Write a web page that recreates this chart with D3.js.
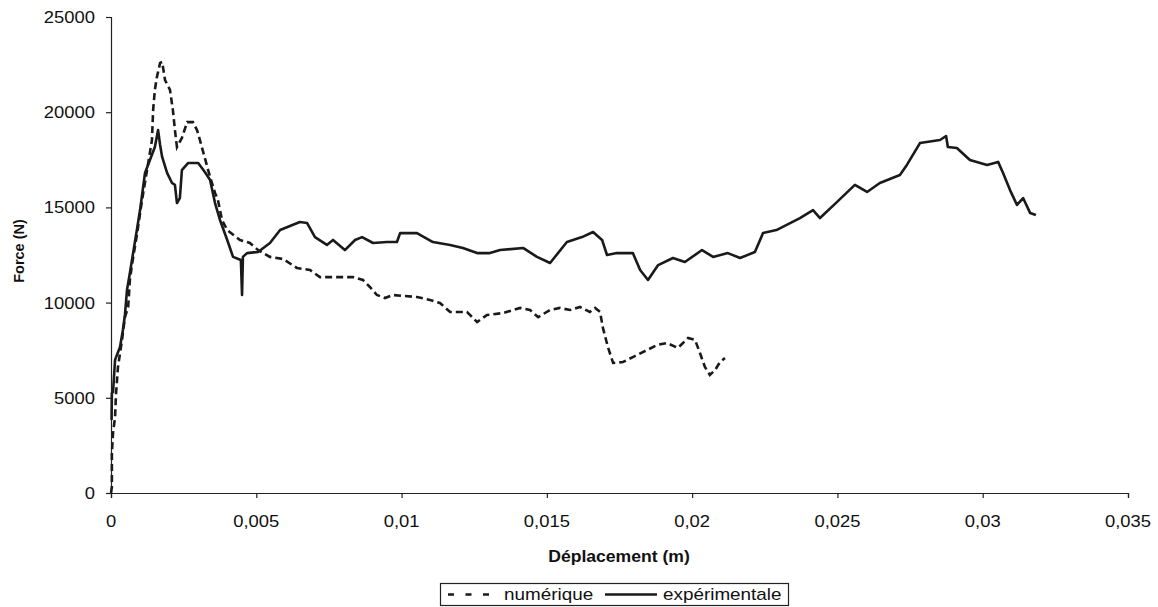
<!DOCTYPE html>
<html><head><meta charset="utf-8">
<script src="https://cdn.jsdelivr.net/npm/d3@7"></script>
<style>body{margin:0;background:#fff}svg{display:block}text{font-family:"Liberation Sans",Arial,sans-serif;fill:#111}</style>
</head><body>
<script>
const xTicks = [0, 0.005, 0.01, 0.015, 0.02, 0.025, 0.03, 0.035];
const xTickLabels = ["0", "0,005", "0,01", "0,015", "0,02", "0,025", "0,03", "0,035"];
const yTicks = [0, 5000, 10000, 15000, 20000, 25000];
const seriesNames = ["numérique", "expérimentale"];

const expX = [0.00002,0.00003,0.00007,0.00014,0.00031,0.00041,0.00048,0.00055,0.00065,0.00076,0.00089,0.001,0.00117,0.00134,0.00151,0.00162,0.00169,0.00176,0.00193,0.0021,0.0022,0.00227,0.00237,0.00244,0.00265,0.003,0.00323,0.00341,0.00358,0.00375,0.004,0.0042,0.00447,0.00451,0.00454,0.00468,0.00506,0.00547,0.00582,0.0065,0.00675,0.00702,0.00743,0.00764,0.00805,0.0084,0.00864,0.00902,0.0095,0.00984,0.00995,0.01053,0.01108,0.01167,0.01211,0.0126,0.01304,0.01339,0.01418,0.01466,0.01511,0.01569,0.01621,0.01659,0.0169,0.01707,0.01741,0.01796,0.01821,0.01848,0.01883,0.01934,0.01975,0.02034,0.02072,0.02123,0.02165,0.02216,0.02244,0.0229,0.02371,0.02416,0.0244,0.02498,0.0256,0.02602,0.02646,0.02715,0.02739,0.02784,0.02853,0.02874,0.0288,0.02911,0.02956,0.03015,0.03053,0.0307,0.03094,0.03118,0.03139,0.03163,0.03183];
const expY = [3830,5250,5300,6990,7670,8560,9350,10660,11550,12600,13810,14860,16810,17490,18170,19060,18280,17650,16810,16280,16180,15230,15490,16960,17330,17330,16860,16440,15230,14340,13290,12400,12240,10400,12400,12600,12660,13130,13810,14230,14180,13440,13030,13290,12760,13290,13440,13130,13180,13180,13650,13650,13180,13030,12870,12600,12600,12760,12870,12400,12080,13180,13440,13710,13290,12500,12600,12600,11710,11190,11970,12340,12130,12760,12400,12600,12340,12660,13650,13810,14440,14860,14440,15280,16180,15810,16280,16700,17230,18380,18540,18750,18170,18120,17490,17230,17390,16810,15910,15130,15490,14710,14600];

const numX = [0,0.00003,0.00003,0.00007,0.00014,0.00017,0.00024,0.00038,0.00048,0.00059,0.00065,0.00072,0.00089,0.00107,0.00124,0.00141,0.00145,0.00151,0.00158,0.00169,0.00176,0.00186,0.00203,0.00213,0.0022,0.00227,0.00244,0.00262,0.00282,0.00296,0.00306,0.00323,0.00341,0.00358,0.00368,0.00382,0.004,0.00444,0.00478,0.00506,0.00547,0.00592,0.0064,0.00685,0.00719,0.00833,0.00867,0.00891,0.00915,0.00943,0.0097,0.01053,0.01098,0.01132,0.01167,0.01225,0.0126,0.01294,0.01349,0.01408,0.01442,0.0147,0.01511,0.01545,0.0158,0.01614,0.01648,0.01666,0.01683,0.01693,0.0171,0.01728,0.01762,0.01796,0.01845,0.01879,0.01913,0.01951,0.01986,0.0201,0.02027,0.02044,0.02061,0.02079,0.02096,0.02113];
const numY = [0,320,2100,3150,3990,5150,6620,8040,9240,9770,11190,11970,13550,15390,16960,18540,20110,21170,21850,22590,22640,21690,21170,20110,19060,18170,18650,19480,19480,19060,18540,17590,16600,15760,15390,14340,13810,13290,13130,12760,12400,12290,11820,11710,11340,11340,11190,10820,10400,10240,10400,10290,10140,9980,9510,9510,8980,9350,9450,9720,9610,9240,9610,9720,9610,9770,9510,9720,9510,8670,7670,6830,6880,7140,7510,7770,7880,7620,8140,8040,7350,6620,6200,6460,6880,7090];

const W = 1158, H = 607;
const L = 111, R = 1128, T = 17, B = 493;
const svg = d3.select("body").append("svg").attr("width", W).attr("height", H);
const x = d3.scaleLinear().domain([0, 0.035]).range([L, R]);
const y = d3.scaleLinear().domain([0, 25000]).range([B, T]);

// axes
const gx = svg.append("g").attr("transform", `translate(0,${B})`)
  .call(d3.axisBottom(x).tickValues(xTicks).tickSize(5).tickFormat((d,i)=>""));
const gy = svg.append("g").attr("transform", `translate(${L},0)`)
  .call(d3.axisLeft(y).tickValues(yTicks).tickSize(5).tickFormat(()=>""));
[gx, gy].forEach(g => { g.select(".domain").attr("stroke","#222").attr("stroke-width",1.2); g.selectAll(".tick line").attr("stroke","#222").attr("stroke-width",1.2); });

function stext(px, py, str, opts) {
  const g = svg.append("g").attr("transform", `translate(${px},${py}) scale(${opts.sx||1},1)`);
  return g.append("text").attr("text-anchor", opts.anchor||"middle")
    .attr("font-size", opts.size||16).attr("font-weight", opts.bold?"bold":"normal").text(str);
}
xTicks.forEach((t,i) => stext(x(t), 527, xTickLabels[i], {sx:1.15, size:16}));
yTicks.forEach(t => stext(95, y(t)+6, String(t), {sx:1.15, size:16, anchor:"end"}));
stext(619, 562, "Déplacement (m)", {sx:1.1, size:16, bold:true});
svg.append("text").attr("transform", `translate(24,251) rotate(-90)`).attr("text-anchor","middle")
  .attr("font-size",14.5).attr("font-weight","bold").text("Force (N)");

// lines
const line = d3.line().x(d=>x(d[0])).y(d=>y(d[1]));
const numData = numX.map((v,i)=>[v,numY[i]]);
const expData = expX.map((v,i)=>[v,expY[i]]);
svg.append("path").datum(expData).attr("d", line).attr("fill","none")
  .attr("stroke","#1a1a1a").attr("stroke-width",2.6).attr("stroke-linejoin","round");
svg.append("path").datum(numData).attr("d", line).attr("fill","none")
  .attr("stroke","#1a1a1a").attr("stroke-width",2.6).attr("stroke-dasharray","7,4");

// legend
const lg = svg.append("g");
lg.append("rect").attr("x",440.5).attr("y",583.5).attr("width",348).attr("height",22)
  .attr("fill","#fff").attr("stroke","#222").attr("stroke-width",1.2);
lg.append("line").attr("x1",448).attr("x2",500).attr("y1",594.5).attr("y2",594.5)
  .attr("stroke","#1a1a1a").attr("stroke-width",2.6).attr("stroke-dasharray","6,11.5");
stext(504, 600, seriesNames[0], {sx:1.18, size:16, anchor:"start"});
lg.append("line").attr("x1",605).attr("x2",657).attr("y1",594.5).attr("y2",594.5)
  .attr("stroke","#1a1a1a").attr("stroke-width",2.6);
stext(663, 600, seriesNames[1], {sx:1.18, size:16, anchor:"start"});
</script>
</body></html>
